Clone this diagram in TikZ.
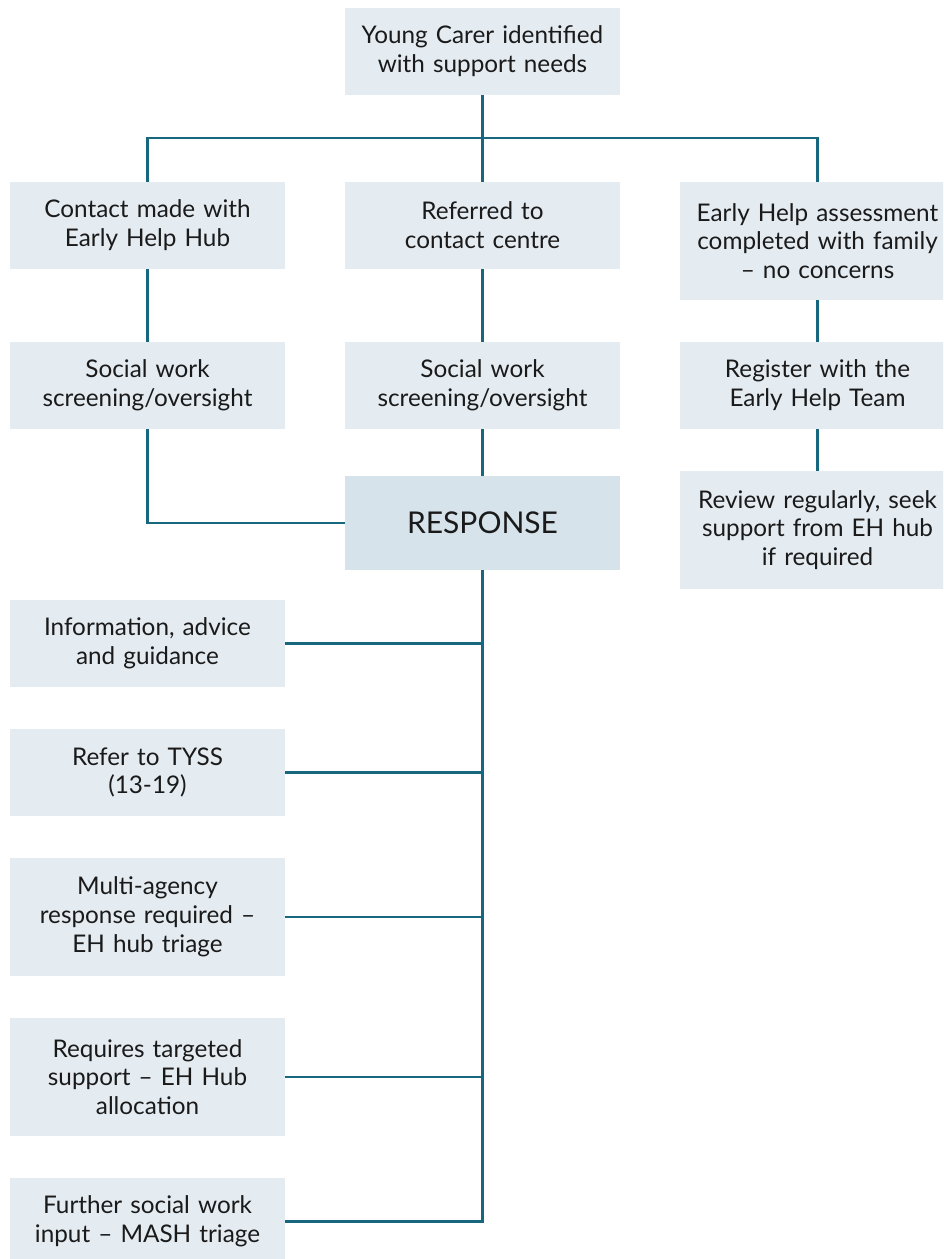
\documentclass[tikz,border=0pt]{standalone}
\usepackage{fontspec}
\setmainfont{Lato}
\definecolor{boxfill}{HTML}{E4EBF1}
\definecolor{respfill}{HTML}{D6E3EB}
\definecolor{linec}{HTML}{17677F}
\definecolor{textc}{HTML}{1A1A1A}
\begin{document}
\begin{tikzpicture}[x=1pt,y=-1pt,
  box/.style={fill=boxfill, minimum width=275pt, minimum height=87pt, text width=268pt,
    align=center, inner sep=0pt, text=textc, font=\fontsize{24.3}{28.8}\selectfont},
  tallbox/.style={box, minimum height=118pt},
  respbox/.style={box, fill=respfill, minimum height=94pt, font=\fontsize{30}{35}\selectfont},
  conn/.style={draw=linec, line width=2.6pt}]
\path[use as bounding box, clip] (0,0) rectangle (943,1259);
\fill[white] (0,0) rectangle (943,1259);
% nodes
\node[box] (top) at (482.5,51.5) {Young Carer identified\\with support needs};
\node[box] (c1) at (147.5,225.5) {Contact made with\\Early Help Hub};
\node[box] (c2) at (482.5,225.5) {Referred to\\contact centre};
\node[tallbox] (c3) at (817.5,241) {Early Help assessment\\completed with family\\– no concerns};
\node[box] (s1) at (147.5,385.5) {Social work\\screening/oversight};
\node[box] (s2) at (482.5,385.5) {Social work\\screening/oversight};
\node[box] (r2) at (817.5,385.5) {Register with the\\Early Help Team};
\node[respbox] (resp) at (482.5,523) {RESPONSE};
\node[tallbox] (r3) at (817.5,530) {Review regularly, seek\\support from EH hub\\if required};
\node[box] (o1) at (147.5,643.5) {Information, advice\\and guidance};
\node[box] (o2) at (147.5,772.5) {Refer to TYSS\\(13-19)};
\node[tallbox] (o3) at (147.5,917) {Multi-agency\\response required –\\EH hub triage};
\node[tallbox] (o4) at (147.5,1077) {Requires targeted\\support – EH Hub\\allocation};
\node[box] (o5) at (147.5,1221.5) {Further social work\\input – MASH triage};
\coordinate (j) at (482.5,138);
% connectors
\draw[conn] (top.south) -- (c2.north);
\draw[conn] (c1.north) |- (j) -| (c3.north);
\draw[conn] (c1.south) -- (s1.north);
\draw[conn] (c2.south) -- (s2.north);
\draw[conn] (c3.south) -- (r2.north);
\draw[conn] (r2.south) -- (r3.north);
\draw[conn] (s1.south) |- (resp.west);
\draw[conn] (s2.south) -- (resp.north);
\draw[conn] (resp.south) |- (o5.east);
\draw[conn] (o1.east) -- (resp.south |- o1.east);
\draw[conn] (o2.east) -- (resp.south |- o2.east);
\draw[conn] (o3.east) -- (resp.south |- o3.east);
\draw[conn] (o4.east) -- (resp.south |- o4.east);
\end{tikzpicture}
\end{document}
